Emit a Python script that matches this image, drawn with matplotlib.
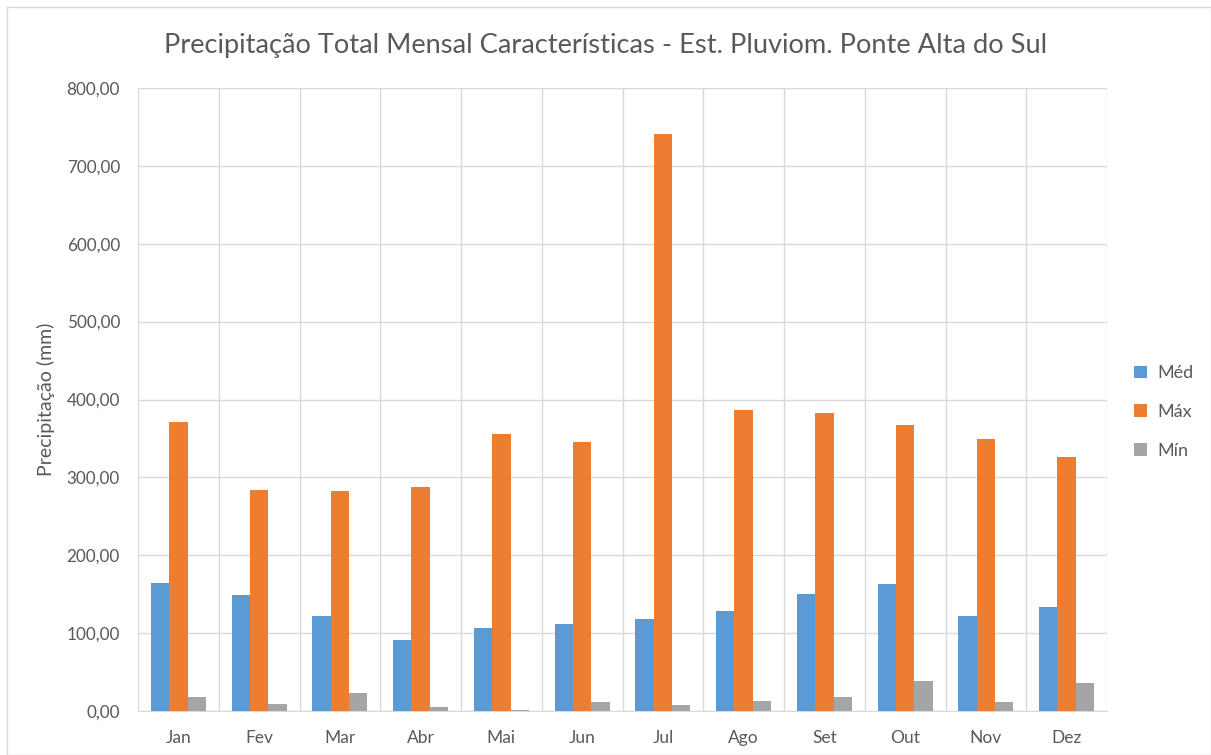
"""Precipitação total mensal característica - Est. Pluviom. Ponte Alta do Sul."""

import matplotlib

matplotlib.use("Agg")
import matplotlib.pyplot as plt
import numpy as np
from matplotlib.patches import Rectangle
from matplotlib.ticker import FuncFormatter

months = ["Jan", "Fev", "Mar", "Abr", "Mai", "Jun", "Jul", "Ago", "Set", "Out", "Nov", "Dez"]
med = [164.8, 149.4, 121.5, 91.0, 106.9, 111.6, 118.0, 128.8, 150.2, 162.7, 121.9, 133.0]
maxv = [370.5, 283.7, 282.0, 287.0, 356.0, 345.6, 741.5, 386.0, 383.0, 366.7, 348.7, 326.0]
minv = [17.6, 8.6, 23.6, 4.7, 1.3, 12.0, 8.2, 12.4, 18.5, 38.6, 11.6, 35.6]

series = [("Méd", med, "#5B9BD5"), ("Máx", maxv, "#ED7D31"), ("Mín", minv, "#A5A5A5")]

plt.rcParams["font.family"] = ["Lato", "DejaVu Sans"]
text_color = "#595959"
grid_color = "#D9D9D9"

W, H = 1211, 755
fig = plt.figure(figsize=(W / 100, H / 100), dpi=100)
ax = fig.add_axes([138 / W, 1 - 711 / H, (1107 - 138) / W, (711 - 88) / H])

x = np.arange(len(months))
width = 0.227
for i, (name, vals, color) in enumerate(series):
    ax.bar(x + (i - 1) * width, vals, width, color=color, label=name, zorder=3)

ax.set_xlim(-0.5, len(months) - 0.5)
ax.set_ylim(0, 800)
ax.set_yticks(np.arange(0, 801, 100))
ax.yaxis.set_major_formatter(FuncFormatter(lambda v, _: f"{v:.2f}".replace(".", ",")))
ax.set_xticks(x)
ax.set_xticklabels(months)

# vertical gridlines sit between the categories
ax.set_xticks(np.arange(-0.5, len(months) + 0.5, 1), minor=True)
ax.grid(True, which="minor", axis="x", color=grid_color, linewidth=1, zorder=0)
ax.grid(True, which="major", axis="y", color=grid_color, linewidth=1, zorder=0)

for side in ["top", "right", "left"]:
    ax.spines[side].set_visible(False)
ax.spines["bottom"].set_color(grid_color)
ax.tick_params(axis="both", which="both", length=0, colors=text_color)
ax.tick_params(axis="x", pad=14, labelsize=12.5)
ax.tick_params(axis="y", pad=13, labelsize=12.3)

ax.set_ylabel("Precipitação (mm)", color=text_color, fontsize=14, labelpad=8)
fig.text(0.5, 1 - 45 / H, "Precipitação Total Mensal Características - Est. Pluviom. Ponte Alta do Sul",
         ha="center", va="center", fontsize=19.6, color=text_color)

ax.legend(loc="center left", bbox_to_anchor=(1118 / W, 1 - 412 / H), bbox_transform=fig.transFigure,
          frameon=False, fontsize=13, labelcolor=text_color, handlelength=0.7, handleheight=0.7,
          handletextpad=0.6, labelspacing=1.25)

fig.patches.append(Rectangle((7 / W, 0), (W - 7) / W, 1 - 7 / H, transform=fig.transFigure,
                             fill=False, edgecolor=grid_color, linewidth=1))

fig.savefig("out.png", dpi=100)
